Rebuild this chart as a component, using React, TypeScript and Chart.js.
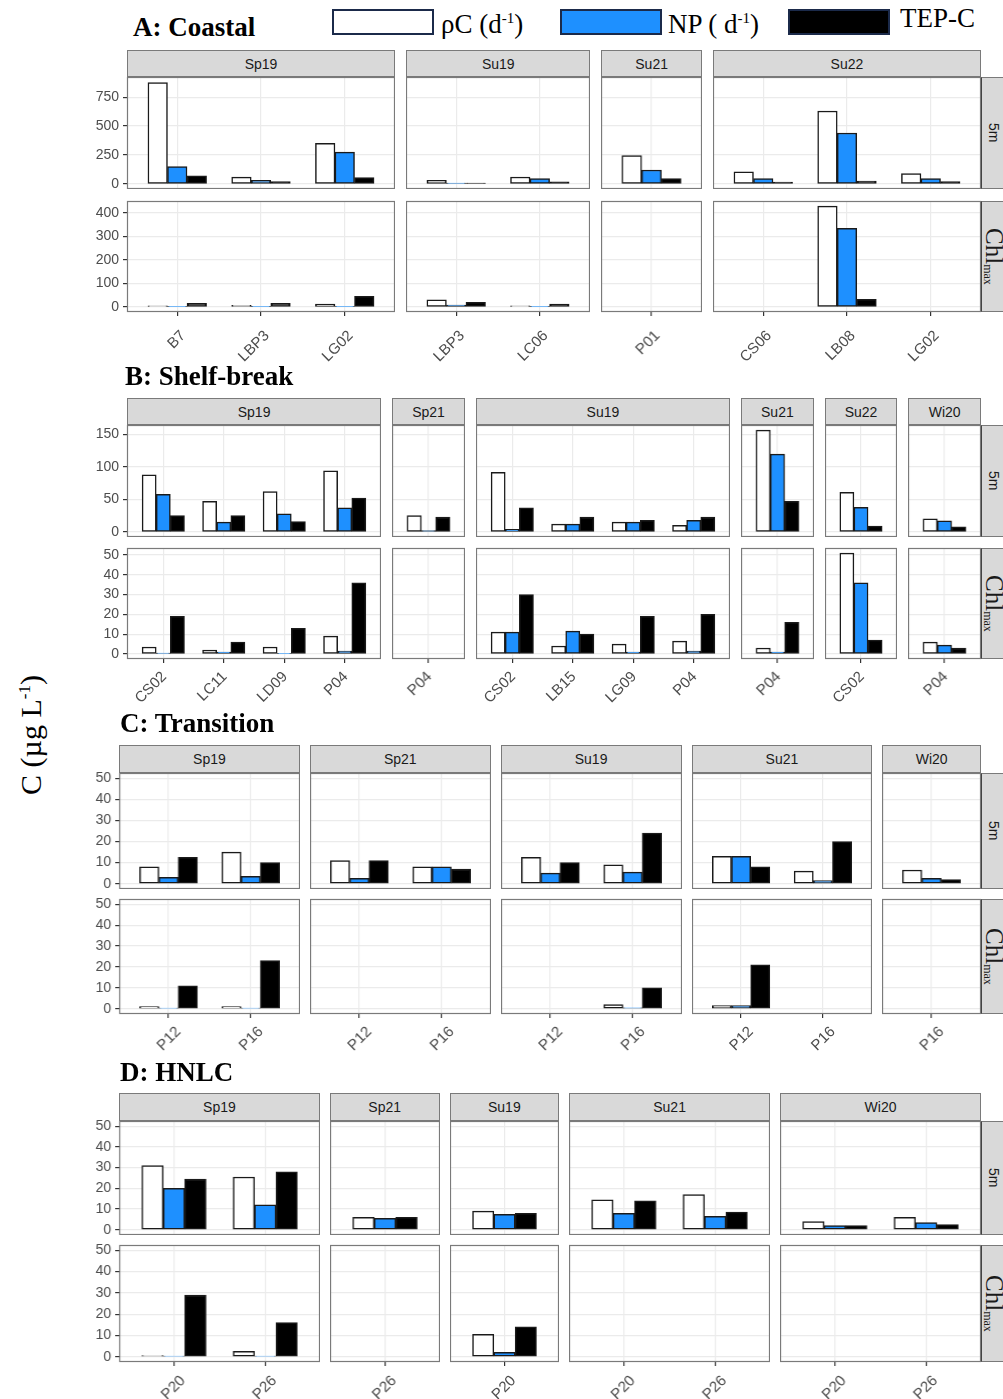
import React, { useEffect, useRef } from 'react';
import { Chart, registerables } from 'chart.js';

Chart.register(...registerables);

// ---------- series ----------
const SERIES_NAMES = ['ρC (d-1)', 'NP (d-1)', 'TEP-C'];
const SERIES_FILL = ['#FFFFFF', '#1E90FF', '#000000'];

// ---------- A: Coastal ----------
const A_SEASONS = ['Sp19', 'Su19', 'Su21', 'Su22'];
const A_STATIONS = [['B7', 'LBP3', 'LG02'], ['LBP3', 'LC06'], ['P01'], ['CS06', 'LB08', 'LG02']];
const A_5M_RHOC = [[875, 58, 350], [30, 60], [245], [105, 630, 90]];
const A_5M_NP = [[150, 30, 275], [8, 45], [120], [45, 440, 45]];
const A_5M_TEP = [[70, 20, 55], [8, 18], [45], [15, 25, 20]];
const A_CHL_RHOC = [[5, 7, 12], [30, 5], [null], [null, 430, null]];
const A_CHL_NP = [[3, 2, 3], [8, 2], [null], [null, 335, null]];
const A_CHL_TEP = [[15, 15, 45], [20, 12], [null], [null, 32, null]];
const A_5M_TICKS = [0, 250, 500, 750];
const A_CHL_TICKS = [0, 100, 200, 300, 400];
const A_5M_LIMITS = [-44, 924];
const A_CHL_LIMITS = [-21.5, 451.5];

// ---------- B: Shelf-break ----------
const B_SEASONS = ['Sp19', 'Sp21', 'Su19', 'Su21', 'Su22', 'Wi20'];
const B_STATIONS = [['CS02', 'LC11', 'LD09', 'P04'], ['P04'], ['CS02', 'LB15', 'LG09', 'P04'], ['P04'], ['CS02'], ['P04']];
const B_5M_RHOC = [[88, 47, 62, 94], [25], [92, 12, 15, 10], [157], [61], [20]];
const B_5M_NP = [[58, 15, 28, 37], [2], [4, 12, 15, 18], [120], [38], [17]];
const B_5M_TEP = [[25, 25, 16, 52], [23], [37, 23, 18, 23], [47], [9], [8]];
const B_CHL_RHOC = [[3.5, 2, 3.5, 9], [null], [11, 4, 5, 6.5], [3], [51], [6]];
const B_CHL_NP = [[0.5, 1, 0.3, 1.5], [null], [11, 11.5, 1, 1.5], [1], [36], [4.5]];
const B_CHL_TEP = [[19, 6, 13, 36], [null], [30, 10, 19, 20], [16], [7], [3]];
const B_5M_TICKS = [0, 50, 100, 150];
const B_CHL_TICKS = [0, 10, 20, 30, 40, 50];
const B_5M_LIMITS = [-7.85, 164.85];
const B_CHL_LIMITS = [-2.55, 53.55];

// ---------- C: Transition ----------
const C_SEASONS = ['Sp19', 'Sp21', 'Su19', 'Su21', 'Wi20'];
const C_STATIONS = [['P12', 'P16'], ['P12', 'P16'], ['P12', 'P16'], ['P12', 'P16'], ['P16']];
const C_5M_RHOC = [[8, 15], [11, 8], [12.5, 9], [13, 6], [6.5]];
const C_5M_NP = [[3, 3.5], [2.5, 8], [5, 5.5], [13, 1.5], [2.5]];
const C_5M_TEP = [[12.5, 10], [11, 7], [10, 24], [8, 20], [2]];
const C_CHL_RHOC = [[1, 1], [null, null], [null, 2], [1.5, null], [null]];
const C_CHL_NP = [[0.3, 0.3], [null, null], [null, 0.5], [1.5, null], [null]];
const C_CHL_TEP = [[11, 23], [null, null], [null, 10], [21, null], [null]];
const C_TICKS = [0, 10, 20, 30, 40, 50];
const C_LIMITS = [-2.5, 52.5];

// ---------- D: HNLC ----------
const D_SEASONS = ['Sp19', 'Sp21', 'Su19', 'Su21', 'Wi20'];
const D_STATIONS = [['P20', 'P26'], ['P26'], ['P20'], ['P20', 'P26'], ['P20', 'P26']];
const D_5M_RHOC = [[31, 25.5], [6], [9], [14.5, 17], [4, 6]];
const D_5M_NP = [[20, 12], [5.5], [7.5], [8, 6.5], [2, 3.5]];
const D_5M_TEP = [[24.5, 28], [6], [8], [14, 8.5], [2, 2.5]];
const D_CHL_RHOC = [[0.5, 2.5], [null], [10.5], [null, null], [null, null]];
const D_CHL_NP = [[0.2, 0.3], [null], [2], [null, null], [null, null]];
const D_CHL_TEP = [[29, 16], [null], [14], [null, null], [null, null]];
const D_TICKS = [0, 10, 20, 30, 40, 50];
const D_LIMITS = [-2.5, 52.5];

// ---------- styling / layout ----------
const SANS = "'Liberation Sans', Arial, Helvetica, sans-serif";
const SERIF = "'Liberation Serif', 'Times New Roman', Times, serif";
const BORDER = '#7a7a7a';
const Y_AXIS_W = 50;
const X_AXIS_H = 70;
const PAD_TOP = 12;
const RIGHT_EDGE = 981;

type Row = { label: 'top' | 'chl'; series: (number | null)[][][]; ticks: number[]; limits: number[]; top: number; h: number };
type Section = {
  title: string; titleTop: number; titleLeft: number; left: number; gap: number; stripTop: number; stripH: number;
  labelPad: number; labelShift: number;
  seasons: string[]; stations: string[][]; rows: Row[];
};

const SECTIONS: Section[] = [
  {
    title: 'A: Coastal', titleTop: 14, titleLeft: 133, left: 127, gap: 11, stripTop: 50, stripH: 27,
    labelPad: 11, labelShift: 6,
    seasons: A_SEASONS, stations: A_STATIONS,
    rows: [
      { label: 'top', series: [A_5M_RHOC, A_5M_NP, A_5M_TEP], ticks: A_5M_TICKS, limits: A_5M_LIMITS, top: 77, h: 112 },
      { label: 'chl', series: [A_CHL_RHOC, A_CHL_NP, A_CHL_TEP], ticks: A_CHL_TICKS, limits: A_CHL_LIMITS, top: 201, h: 111 },
    ],
  },
  {
    title: 'B: Shelf-break', titleTop: 363, titleLeft: 125, left: 127, gap: 11, stripTop: 398, stripH: 27,
    labelPad: 5, labelShift: 1,
    seasons: B_SEASONS, stations: B_STATIONS,
    rows: [
      { label: 'top', series: [B_5M_RHOC, B_5M_NP, B_5M_TEP], ticks: B_5M_TICKS, limits: B_5M_LIMITS, top: 425, h: 112 },
      { label: 'chl', series: [B_CHL_RHOC, B_CHL_NP, B_CHL_TEP], ticks: B_CHL_TICKS, limits: B_CHL_LIMITS, top: 548, h: 111 },
    ],
  },
  {
    title: 'C: Transition', titleTop: 710, titleLeft: 120, left: 119, gap: 10, stripTop: 745, stripH: 28,
    labelPad: 5, labelShift: 10,
    seasons: C_SEASONS, stations: C_STATIONS,
    rows: [
      { label: 'top', series: [C_5M_RHOC, C_5M_NP, C_5M_TEP], ticks: C_TICKS, limits: C_LIMITS, top: 773, h: 116 },
      { label: 'chl', series: [C_CHL_RHOC, C_CHL_NP, C_CHL_TEP], ticks: C_TICKS, limits: C_LIMITS, top: 899, h: 115 },
    ],
  },
  {
    title: 'D: HNLC', titleTop: 1059, titleLeft: 120, left: 119, gap: 10, stripTop: 1093, stripH: 28,
    labelPad: 6, labelShift: 9,
    seasons: D_SEASONS, stations: D_STATIONS,
    rows: [
      { label: 'top', series: [D_5M_RHOC, D_5M_NP, D_5M_TEP], ticks: D_TICKS, limits: D_LIMITS, top: 1121, h: 114 },
      { label: 'chl', series: [D_CHL_RHOC, D_CHL_NP, D_CHL_TEP], ticks: D_TICKS, limits: D_LIMITS, top: 1245, h: 117 },
    ],
  },
];

const panelBorder = {
  id: 'panelBorder',
  afterDatasetsDraw(chart: any) {
    const { ctx, chartArea: a } = chart;
    ctx.save();
    ctx.strokeStyle = BORDER;
    ctx.lineWidth = 1.2;
    ctx.strokeRect(a.left + 0.5, a.top + 0.5, a.right - a.left - 1, a.bottom - a.top - 1);
    ctx.restore();
  },
};

type PanelProps = {
  x: number; y: number; w: number; h: number;
  stations: string[]; values: (number | null)[][];
  ticks: number[]; limits: number[]; showY: boolean; showX: boolean;
  labelPad: number; labelShift: number;
};

function Panel({ x, y, w, h, stations, values, ticks, limits, showY, showX, labelPad, labelShift }: PanelProps) {
  const ref = useRef<HTMLCanvasElement>(null);
  const yW = showY ? Y_AXIS_W : 0;
  const xH = showX ? X_AXIS_H : 0;
  useEffect(() => {
    const n = stations.length;
    const unit = w / (n + 0.2);
    const barW = (unit * 0.7) / 3;
    const chart = new Chart(ref.current as HTMLCanvasElement, {
      type: 'bar',
      data: {
        datasets: values.map((vals, k) => ({
          label: SERIES_NAMES[k],
          data: stations
            .map((_, i) => ({ x: i, y: vals[i] }))
            .filter((p) => p.y !== null && p.y !== undefined) as any,
          backgroundColor: SERIES_FILL[k],
          borderColor: '#1a1a1a',
          borderWidth: 1.5,
          borderSkipped: false,
          barThickness: barW,
        })),
      },
      options: {
        animation: false,
        responsive: false,
        maintainAspectRatio: false,
        layout: { padding: { top: PAD_TOP, left: 0, right: 0, bottom: 0 } },
        plugins: { legend: { display: false }, tooltip: { enabled: false } },
        scales: {
          x: {
            type: 'linear',
            min: -0.6,
            max: n - 0.4,
            offset: false,
            afterBuildTicks: (s: any) => {
              s.ticks = stations.map((_, i) => ({ value: i }));
            },
            afterFit: (s: any) => {
              s.height = xH;
              s.paddingLeft = 0;
              s.paddingRight = 0;
            },
            ticks: {
              display: showX,
              autoSkip: false,
              minRotation: 45,
              maxRotation: 45,
              padding: labelPad,
              labelOffset: labelShift,
              color: '#4D4D4D',
              font: { family: SANS, size: 15 },
              callback: (_v: any, i: number) => stations[i],
            },
            grid: {
              offset: false, color: '#EBEBEB', lineWidth: 1.2, drawTicks: showX, tickLength: 4, tickColor: '#333333',
            },
            border: { display: false },
          },
          y: {
            type: 'linear',
            min: limits[0],
            max: limits[1],
            afterBuildTicks: (s: any) => {
              s.ticks = ticks.map((v) => ({ value: v }));
            },
            afterFit: (s: any) => {
              s.width = yW;
              s.paddingTop = 0;
              s.paddingBottom = 0;
            },
            ticks: {
              display: showY,
              autoSkip: false,
              padding: 4,
              color: '#4D4D4D',
              font: { family: SANS, size: 14 },
            },
            grid: { color: '#EBEBEB', lineWidth: 1.2, drawTicks: showY, tickLength: 4, tickColor: '#333333' },
            border: { display: false },
          },
        },
      } as any,
      plugins: [panelBorder],
    });
    return () => chart.destroy();
  }, []);
  return (
    <canvas
      ref={ref}
      width={w + yW}
      height={h + xH + PAD_TOP}
      style={{ position: 'absolute', left: x - yW, top: y - PAD_TOP, width: w + yW, height: h + xH + PAD_TOP }}
    />
  );
}

function SectionView({ s }: { s: Section }) {
  const units = s.stations.map((st) => st.length + 0.2);
  const totalUnits = units.reduce((a, b) => a + b, 0);
  const avail = RIGHT_EDGE - s.left - s.gap * (s.stations.length - 1);
  const u = avail / totalUnits;
  const xs: number[] = [];
  let cx = s.left;
  units.forEach((un) => {
    xs.push(cx);
    cx += un * u + s.gap;
  });
  const widths = units.map((un) => un * u);

  return (
    <>
      <div
        style={{
          position: 'absolute', left: s.titleLeft, top: s.titleTop, font: `bold 27px ${SERIF}`,
          lineHeight: '27px', color: '#000', whiteSpace: 'nowrap',
        }}
      >
        {s.title}
      </div>
      {s.seasons.map((season, j) => (
        <div
          key={'strip' + j}
          style={{
            position: 'absolute', left: xs[j], top: s.stripTop, width: widths[j], height: s.stripH,
            boxSizing: 'border-box', background: '#D9D9D9', border: `1px solid ${BORDER}`,
            font: `14px ${SANS}`, color: '#1A1A1A', display: 'flex', alignItems: 'center',
            justifyContent: 'center',
          }}
        >
          {season}
        </div>
      ))}
      {s.rows.map((row, r) => (
        <React.Fragment key={'row' + r}>
          {s.seasons.map((_, j) => (
            <Panel
              key={'p' + r + '-' + j}
              x={xs[j]}
              y={row.top}
              w={widths[j]}
              h={row.h}
              stations={s.stations[j]}
              values={row.series.map((ser) => ser[j])}
              ticks={row.ticks}
              limits={row.limits}
              showY={j === 0}
              showX={r === s.rows.length - 1}
              labelPad={s.labelPad}
              labelShift={s.labelShift}
            />
          ))}
          <div
            style={{
              position: 'absolute', left: RIGHT_EDGE, top: row.top, width: 22, height: row.h,
              boxSizing: 'border-box', background: '#D9D9D9', borderLeft: `1px solid #444`,
              borderTop: `1px solid ${BORDER}`, borderBottom: `1px solid ${BORDER}`,
              display: 'flex', alignItems: 'center', justifyContent: 'flex-end', overflow: 'hidden',
            }}
          >
            {row.label === 'top' ? (
              <span style={{ writingMode: 'vertical-rl', font: `14px ${SANS}`, color: '#1A1A1A', marginRight: 1 }}>5m</span>
            ) : (
              <span style={{ writingMode: 'vertical-rl', font: `25px ${SERIF}`, color: '#1A1A1A', lineHeight: '25px', marginRight: -4 }}>
                Chl<sub style={{ fontSize: 12 }}>max</sub>
              </span>
            )}
          </div>
        </React.Fragment>
      ))}
    </>
  );
}

function Legend() {
  const box = (left: number, fill: string) => (
    <div
      style={{
        position: 'absolute', left, top: 9, width: 102, height: 26, boxSizing: 'border-box',
        background: fill, border: '2px solid #1B2A4A',
      }}
    />
  );
  const txt = (left: number, content: React.ReactNode) => (
    <div style={{ position: 'absolute', left, top: 5, font: `27px ${SERIF}`, lineHeight: '27px', whiteSpace: 'nowrap', color: '#000' }}>
      {content}
    </div>
  );
  return (
    <>
      {box(332, SERIES_FILL[0])}
      {txt(441, <>ρC (d<sup style={{ fontSize: 15 }}>-1</sup>)</>)}
      {box(560, SERIES_FILL[1])}
      {txt(668, <>NP ( d<sup style={{ fontSize: 15 }}>-1</sup>)</>)}
      {box(788, SERIES_FILL[2])}
      {txt(900, <>TEP-C</>)}
    </>
  );
}

export default function App() {
  return (
    <div style={{ position: 'absolute', left: 0, top: 0, width: 1003, height: 1399, overflow: 'hidden', background: '#fff' }}>
      <Legend />
      {SECTIONS.map((s, i) => (
        <SectionView key={i} s={s} />
      ))}
      <div
        style={{
          position: 'absolute', left: 31, top: 735, transform: 'translate(-50%, -50%) rotate(-90deg)',
          font: `30px ${SERIF}`, whiteSpace: 'nowrap', color: '#000',
        }}
      >
        C (µg L<sup style={{ fontSize: 17 }}>-1</sup>)
      </div>
    </div>
  );
}
